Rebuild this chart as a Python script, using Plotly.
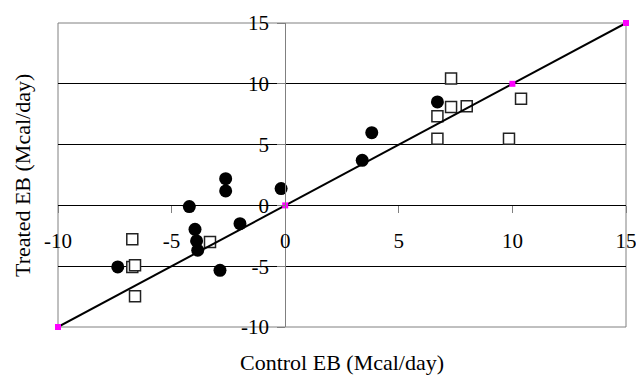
import plotly.graph_objects as go

# Energy balance, control vs treated (Mcal/day)
circle_x = [-2.62, -2.62, -0.18, -4.22, -1.99, -3.97, -3.90, -3.85, -7.37, -2.87, 6.70, 3.81, 3.39]
circle_y = [2.20, 1.19, 1.38, -0.10, -1.50, -1.97, -2.92, -3.69, -5.06, -5.34, 8.51, 5.98, 3.71]

square_x = [-3.31, -6.73, -6.73, -6.61, -6.61, 7.30, 10.38, 7.30, 7.99, 6.70, 6.70, 9.85]
square_y = [-3.01, -2.79, -5.06, -4.93, -7.48, 10.43, 8.78, 8.09, 8.15, 7.33, 5.49, 5.49]

# line of equality
line_x = [-10, 0, 10, 15]
line_y = [-10, 0, 10, 15]

tick_vals = [-10, -5, 0, 5, 10, 15]
tick_text = ["-10", "-5", "0", "5", "10", "15"]

FONT = "Liberation Serif, Times New Roman, serif"

fig = go.Figure()
fig.add_trace(go.Scatter(
    x=circle_x, y=circle_y, mode="markers",
    marker=dict(symbol="circle", size=13, color="black", line=dict(width=0)),
))
fig.add_trace(go.Scatter(
    x=square_x, y=square_y, mode="markers",
    marker=dict(symbol="square", size=11, color="white",
                line=dict(width=1.5, color="#222222")),
))
fig.add_trace(go.Scatter(
    x=line_x, y=line_y, mode="lines+markers", cliponaxis=False,
    line=dict(color="black", width=2),
    marker=dict(symbol="square", size=6, color="#FF00FF"),
))

fig.update_layout(
    width=636, height=376,
    margin=dict(l=58, r=10, t=23, b=49, autoexpand=False),
    paper_bgcolor="white", plot_bgcolor="white",
    showlegend=False,
    font=dict(family=FONT, color="black"),
    xaxis=dict(
        range=[-10, 15], tickvals=tick_vals, ticktext=tick_text,
        showgrid=False, zeroline=False, showline=False,
        anchor="free", position=0.4, automargin=False,
        ticks="outside", ticklen=7, tickcolor="#808080", tickwidth=1,
        ticklabelstandoff=9, ticklabeloverflow="allow",
        tickfont=dict(size=21, family=FONT),
    ),
    yaxis=dict(
        range=[-10, 15], tickvals=tick_vals, ticktext=tick_text,
        showgrid=True, gridcolor="black", gridwidth=1,
        zeroline=False, showline=True, linecolor="#808080", linewidth=1,
        anchor="free", position=0.4, automargin=False,
        ticks="outside", ticklen=8, tickcolor="#808080", tickwidth=1,
        ticklabelstandoff=4, ticklabeloverflow="allow",
        tickfont=dict(size=21, family=FONT),
    ),
    shapes=[dict(type="rect", xref="paper", yref="paper", x0=0, y0=0, x1=1, y1=1,
                 line=dict(color="#808080", width=1), layer="below")],
    annotations=[
        dict(text="Control EB (Mcal/day)", xref="paper", yref="paper",
             x=0.5, y=-0.116, xanchor="center", yanchor="middle",
             showarrow=False, font=dict(size=22, family=FONT)),
        dict(text="Treated EB (Mcal/day)", xref="paper", yref="paper",
             x=-0.0634, y=0.5, xanchor="center", yanchor="middle", textangle=-90,
             showarrow=False, font=dict(size=22, family=FONT)),
    ],
)

fig.write_html("out.html")
